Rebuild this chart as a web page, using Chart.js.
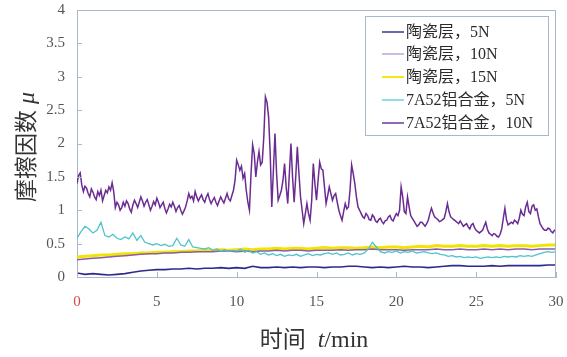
<!DOCTYPE html>
<html>
<head>
<meta charset="utf-8">
<script src="https://cdn.jsdelivr.net/npm/chart.js@4/dist/chart.umd.min.js"></script>
<style>
  html, body { margin: 0; padding: 0; background: #ffffff; }
  #wrap { width: 567px; height: 357px; }
</style>
</head>
<body>
<div id="wrap"><canvas id="c" width="567" height="357"></canvas></div>
<script>
// Friction coefficient vs. sliding time for the ceramic coating and 7A52 alloy

const seriesNames = ['陶瓷层，5N', '陶瓷层，10N', '陶瓷层，15N', '7A52铝合金，5N', '7A52铝合金，10N'];
const xTickValues = [0, 5, 10, 15, 20, 25, 30];
const yTickValues = [0, 0.5, 1, 1.5, 2, 2.5, 3, 3.5, 4];

// Sampling interval (min) of each recorded series
const fineStep = 0.1;     // 7A52 alloy, 10N
const mediumStep = 0.25;  // 7A52 alloy, 5N
const coarseStep = 0.5;   // ceramic coating series

// Ceramic coating, 5N
const ceramic5N = [
  0.06,0.04,0.05,0.04,0.03,0.04,0.05,0.07,0.09,0.10,
  0.11,0.11,0.12,0.12,0.13,0.12,0.13,0.13,0.14,0.13,
  0.14,0.13,0.16,0.14,0.14,0.15,0.14,0.15,0.14,0.15,
  0.15,0.14,0.15,0.15,0.16,0.16,0.15,0.14,0.15,0.14,
  0.15,0.16,0.15,0.15,0.14,0.15,0.16,0.17,0.17,0.16,
  0.16,0.16,0.17,0.16,0.17,0.17,0.17,0.17,0.17,0.18,
  0.18
];

// Ceramic coating, 10N
const ceramic10N = [
  0.26,0.27,0.28,0.29,0.30,0.31,0.32,0.33,0.34,0.35,
  0.35,0.36,0.36,0.37,0.37,0.38,0.38,0.38,0.39,0.39,
  0.38,0.39,0.38,0.39,0.39,0.40,0.39,0.40,0.40,0.39,
  0.40,0.40,0.40,0.41,0.40,0.41,0.41,0.42,0.41,0.41,
  0.41,0.40,0.41,0.41,0.41,0.42,0.41,0.41,0.42,0.41,
  0.41,0.42,0.41,0.42,0.41,0.42,0.42,0.41,0.42,0.42,
  0.42
];

// Ceramic coating, 15N
const ceramic15N = [
  0.30,0.31,0.32,0.33,0.33,0.34,0.35,0.35,0.36,0.36,
  0.37,0.37,0.38,0.38,0.39,0.39,0.40,0.40,0.41,0.40,
  0.41,0.42,0.41,0.42,0.42,0.43,0.42,0.43,0.43,0.42,
  0.43,0.44,0.43,0.44,0.44,0.43,0.44,0.45,0.44,0.45,
  0.45,0.44,0.45,0.46,0.45,0.47,0.46,0.46,0.47,0.46,
  0.46,0.47,0.46,0.47,0.46,0.47,0.47,0.46,0.47,0.48,
  0.48
];

// 7A52 aluminium alloy, 5N
const alloy5N = [
  0.58,0.68,0.76,0.72, 0.66,0.70,0.82,0.62, 0.60,0.64,0.58,0.56,
  0.60,0.57,0.66,0.55, 0.62,0.52,0.50,0.48, 0.50,0.47,0.49,0.46,
  0.47,0.58,0.48,0.46, 0.56,0.45,0.44,0.43, 0.42,0.44,0.40,0.42,
  0.39,0.41,0.38,0.40, 0.39,0.42,0.37,0.40, 0.36,0.38,0.34,0.36,
  0.33,0.35,0.32,0.34, 0.31,0.33,0.32,0.34, 0.31,0.33,0.35,0.32,
  0.34,0.33,0.35,0.36, 0.34,0.36,0.33,0.34, 0.36,0.33,0.35,0.34,
  0.36,0.42,0.52,0.45, 0.38,0.36,0.38,0.37, 0.39,0.36,0.38,0.37,
  0.39,0.36,0.37,0.38, 0.36,0.35,0.36,0.34, 0.33,0.31,0.32,0.30,
  0.31,0.29,0.30,0.29, 0.30,0.28,0.29,0.30, 0.29,0.30,0.29,0.31,
  0.30,0.31,0.30,0.32, 0.31,0.32,0.31,0.33, 0.35,0.37,0.38,0.37,
  0.38
];

// 7A52 aluminium alloy, 10N
const alloy10N = [
  1.40,1.52,1.56,1.38,1.28,1.36,1.33,1.25,1.20,1.32,
  1.27,1.20,1.16,1.28,1.22,1.30,1.14,1.22,1.30,1.26,
  1.35,1.30,1.41,1.28,1.04,1.12,1.08,1.00,1.04,1.12,
  1.06,1.14,1.10,1.02,0.97,1.08,1.15,1.10,1.04,1.12,
  1.20,1.14,1.06,1.12,1.16,1.08,1.00,1.06,1.13,1.08,
  1.18,1.12,1.04,1.08,1.12,1.03,0.96,1.02,1.09,1.05,
  1.12,1.06,0.98,1.04,1.07,1.00,0.94,0.99,1.05,1.14,
  1.25,1.18,1.21,1.14,1.28,1.20,1.14,1.19,1.23,1.16,
  1.12,1.20,1.25,1.16,1.10,1.15,1.19,1.12,1.07,1.14,
  1.20,1.15,1.11,1.18,1.25,1.17,1.14,1.22,1.30,1.45,
  1.75,1.68,1.60,1.66,1.48,1.55,1.30,1.12,1.00,1.55,
  1.98,1.85,1.50,1.72,1.88,1.68,1.72,2.10,2.70,2.62,
  2.40,1.85,1.05,1.60,2.15,1.55,1.15,1.22,1.30,1.45,
  1.70,1.35,1.10,1.55,2.00,1.50,1.12,1.50,1.95,1.55,
  1.20,1.00,0.80,0.95,1.10,0.95,0.85,1.15,1.70,1.40,
  1.15,1.45,1.72,1.62,1.60,1.35,1.10,1.22,1.35,1.25,
  1.15,1.22,1.25,1.12,1.00,0.92,0.85,0.98,1.10,1.02,
  1.05,1.30,1.68,1.55,1.40,1.20,1.05,1.00,0.95,0.90,
  0.88,0.95,0.92,0.86,0.85,0.93,0.90,0.84,0.82,0.86,
  0.88,0.83,0.80,0.84,0.85,0.90,0.92,0.86,0.84,0.90,
  0.95,0.92,1.00,1.35,1.20,0.98,0.95,1.20,1.05,0.92,
  0.88,0.84,0.80,0.76,0.78,0.82,0.82,0.79,0.76,0.80,
  0.85,0.95,1.03,0.96,0.90,0.88,0.86,0.83,0.84,0.86,
  0.88,0.98,1.10,0.98,0.90,0.88,0.86,0.84,0.82,0.80,
  0.84,0.80,0.76,0.78,0.80,0.75,0.72,0.78,0.80,0.74,
  0.70,0.68,0.66,0.68,0.70,0.76,0.82,0.72,0.66,0.64,
  0.62,0.65,0.64,0.61,0.60,0.64,0.72,0.88,1.03,0.86,
  0.78,0.80,0.82,0.80,0.85,0.83,0.80,0.88,1.00,0.94,
  0.92,1.05,1.12,0.98,0.95,1.06,1.08,1.00,1.02,0.90,
  0.80,0.76,0.72,0.70,0.70,0.73,0.72,0.68,0.66,0.70,
  0.70
];

// Pair each reading with its sampling time
function toPoints(values, step) {
  return values.map((v, i) => ({ x: +(i * step).toFixed(2), y: v }));
}

const lineColors = ['#2d2a8e', '#8a5cb0', '#f0e400', '#4ec3cc', '#6a2c92'];
const keyColors  = ['#3a3794', '#b8a6dc', '#f5ea10', '#6fd2e2', '#6b3a9c'];
const frameColor = '#a9b7cb';

const datasets = [
  { label: seriesNames[4], data: toPoints(alloy10N, fineStep),    borderColor: lineColors[4], borderWidth: 1.5 },
  { label: seriesNames[3], data: toPoints(alloy5N, mediumStep),   borderColor: lineColors[3], borderWidth: 1.3 },
  { label: seriesNames[0], data: toPoints(ceramic5N, coarseStep), borderColor: lineColors[0], borderWidth: 1.6 },
  { label: seriesNames[1], data: toPoints(ceramic10N, coarseStep),borderColor: lineColors[1], borderWidth: 1.5 },
  { label: seriesNames[2], data: toPoints(ceramic15N, coarseStep),borderColor: lineColors[2], borderWidth: 3 }
].map(d => Object.assign(d, { pointRadius: 0, tension: 0, fill: false }));

// Frame, inner tick marks, axis titles and the boxed key
const decorations = {
  id: 'decorations',
  afterDraw(chart) {
    const ctx = chart.ctx;
    const a = chart.chartArea;
    const xs = chart.scales.x, ys = chart.scales.y;
    ctx.save();
    ctx.strokeStyle = frameColor;
    ctx.lineWidth = 1;
    ctx.beginPath();
    ctx.moveTo(a.left, a.top + 0.5); ctx.lineTo(a.right, a.top + 0.5);
    ctx.moveTo(a.right - 0.5, a.top); ctx.lineTo(a.right - 0.5, a.bottom);
    yTickValues.forEach(v => {
      const py = Math.round(ys.getPixelForValue(v)) + 0.5;
      ctx.moveTo(a.left, py); ctx.lineTo(a.left + 5, py);
    });
    xTickValues.forEach(v => {
      const px = Math.round(xs.getPixelForValue(v)) + 0.5;
      ctx.moveTo(px, a.bottom); ctx.lineTo(px, a.bottom - 5);
    });
    ctx.stroke();

    // x-axis title: 时间 t/min
    ctx.fillStyle = '#333';
    ctx.textBaseline = 'alphabetic';
    const cjk = "23px 'Noto Sans CJK SC'";
    const it = "italic 24px 'Liberation Serif'";
    const rm = "24px 'Liberation Serif'";
    const xParts = [['时间', cjk], ['  ', rm], ['t', it], ['/min', rm]];
    let total = 0;
    xParts.forEach(p => { ctx.font = p[1]; total += ctx.measureText(p[0]).width; });
    let cx = 314 - total / 2;
    xParts.forEach(p => { ctx.font = p[1]; ctx.fillText(p[0], cx, 347); cx += ctx.measureText(p[0]).width; });

    // y-axis title: 摩擦因数 μ
    const yParts = [['摩擦因数', cjk], [' ', rm], ['μ', it]];
    total = 0;
    yParts.forEach(p => { ctx.font = p[1]; total += ctx.measureText(p[0]).width; });
    ctx.save();
    ctx.translate(34, 147);
    ctx.rotate(-Math.PI / 2);
    let cy = -total / 2;
    yParts.forEach(p => { ctx.font = p[1]; ctx.fillText(p[0], cy, 0); cy += ctx.measureText(p[0]).width; });
    ctx.restore();

    // key box
    ctx.strokeStyle = '#a8b8cc';
    ctx.lineWidth = 1;
    ctx.strokeRect(365.5, 16.5, 183, 119);
    ctx.font = "16px 'Liberation Serif', 'Noto Sans CJK SC'";
    ctx.textBaseline = 'middle';
    const rowsY = [32, 54, 77, 100, 123];
    seriesNames.forEach((name, i) => {
      ctx.strokeStyle = keyColors[i];
      ctx.lineWidth = i === 2 ? 2 : 1.5;
      ctx.beginPath();
      ctx.moveTo(382, rowsY[i]); ctx.lineTo(404, rowsY[i]);
      ctx.stroke();
      ctx.fillStyle = '#2a2a2a';
      ctx.fillText(name, 406, rowsY[i] + 1);
    });
    ctx.restore();
  }
};

new Chart(document.getElementById('c'), {
  type: 'line',
  data: { datasets },
  options: {
    responsive: false,
    animation: false,
    events: [],
    layout: { padding: { left: 0, top: 10, right: 11, bottom: 0 } },
    plugins: { legend: { display: false }, tooltip: { enabled: false } },
    scales: {
      x: {
        type: 'linear', min: 0, max: 30,
        afterBuildTicks: s => { s.ticks = xTickValues.map(v => ({ value: v })); },
        afterFit: s => { s.height = 80; s.paddingLeft = 0; s.paddingRight = 0; },
        grid: { display: false, drawTicks: false },
        border: { display: true, color: frameColor, width: 1 },
        ticks: {
          padding: 16,
          font: { family: 'Liberation Serif', size: 15 },
          color: ctx => ctx.tick.value === 0 ? '#d24a4a' : '#555555',
          callback: v => String(v)
        }
      },
      y: {
        min: 0, max: 4,
        afterBuildTicks: s => { s.ticks = yTickValues.map(v => ({ value: v })); },
        afterFit: s => { s.width = 77; s.paddingTop = 0; s.paddingBottom = 0; },
        grid: { display: false, drawTicks: false },
        border: { display: true, color: frameColor, width: 1 },
        ticks: {
          padding: 12,
          font: { family: 'Liberation Serif', size: 15 },
          color: '#555555',
          callback: v => String(v)
        }
      }
    }
  },
  plugins: [decorations]
});
</script>
</body>
</html>
